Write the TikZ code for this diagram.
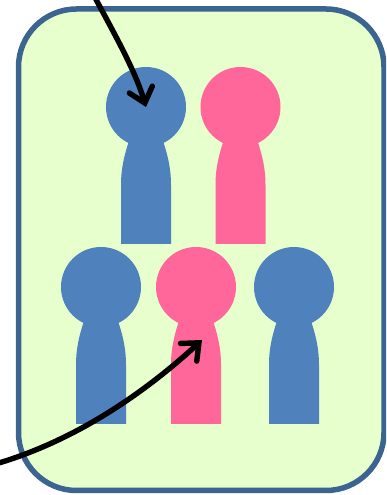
\documentclass[tikz,border=0pt]{standalone}
\usepackage{xcolor}
\usetikzlibrary{arrows.meta}
\definecolor{framegreen}{HTML}{E6FFCC}
\definecolor{frameblue}{HTML}{3B6491}
\definecolor{personblue}{HTML}{4F81BD}
\definecolor{personpink}{HTML}{FF6699}
\tikzset{
  head/.style={circle,inner sep=0pt,minimum size=80pt},
  pointer/.style={line width=5.4pt,-{Straight Barb[length=14pt,width=24pt,line width=5.4pt,line cap=round,line join=miter]},line cap=round},
  pics/person/.style={code={
    \fill[#1] (-25,0) -- (-25,59) .. controls (-25,77) and (-21,91) .. (-17,103)
      -- (17,103) .. controls (21,91) and (25,77) .. (25,59) -- (25,0) -- cycle;
  }}
}

\begin{document}
\begin{tikzpicture}[x=1pt,y=1pt]
  \useasboundingbox (0,0) rectangle (386,495);
  \begin{scope}
    \clip (0,0) rectangle (386,495);
    \draw[frameblue,fill=framegreen,line width=5.5pt,rounded corners=58pt] (18.5,4.5) rectangle (384,486);

    % top row
    \pic at (146,251) {person=personblue};
    \pic at (240.5,251) {person=personpink};
    \node[head,fill=personblue] (headA) at (146,388) {};
    \node[head,fill=personpink] (headB) at (240.5,388) {};

    % bottom row
    \pic at (101,71) {person=personblue};
    \pic at (196,71) {person=personpink};
    \pic at (294,71) {person=personblue};
    \node[head,fill=personblue] (headC) at (101,208) {};
    \node[head,fill=personpink] (headD) at (196,208) {};
    \node[head,fill=personblue] (headE) at (294,208) {};

    \coordinate (topin) at (92,503);
    \coordinate (leftin) at (-8,30);
    \coordinate (bodyD) at (202,155);
    \draw[pointer] (topin) .. controls (115,460) and (135,425) .. (headA.center);
    \draw[pointer] (leftin) .. controls (70,52) and (140,98) .. (bodyD);
  \end{scope}
\end{tikzpicture}
\end{document}
